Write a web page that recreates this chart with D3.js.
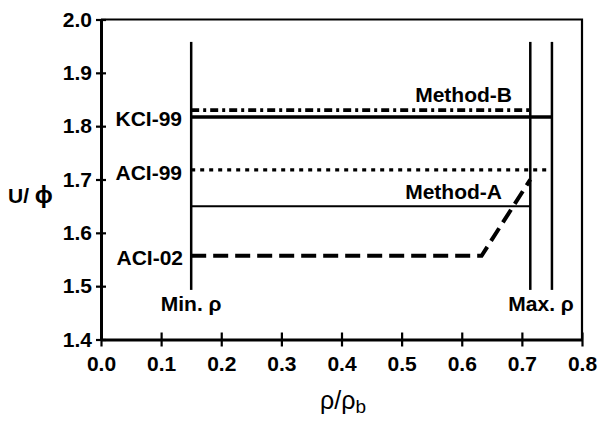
<!DOCTYPE html>
<html>
<head>
<script src="https://d3js.org/d3.v7.min.js"></script>
<style type="text/css">
    html, body {
        margin: 0;
        padding: 0;
        background: #fff;
    }
    svg text {
        font-family: "Liberation Sans", Arial, sans-serif;
    }
</style>
</head>
<body>
<div id="chart"></div>
<script>
    // axis ticks
    var xTicks = [0, 0.1, 0.2, 0.3, 0.4, 0.5, 0.6, 0.7, 0.8];
    var yTicks = [1.4, 1.5, 1.6, 1.7, 1.8, 1.9, 2.0];

    // horizontal levels (U/phi) between min rho and their max rho
    var levelNames  = ["Method-B", "KCI-99", "ACI-99", "Method-A"];
    var levelValues = [1.830, 1.817, 1.718, 1.650];
    var levelEnds   = [0.714, 0.75, 0.75, 0.714];
    var minRho = 0.15;

    // ACI-02 curve
    var aci02X = [0.15, 0.633, 0.714];
    var aci02Y = [1.557, 1.557, 1.700];

    // vertical limit lines
    var limitX = [0.15, 0.714, 0.75];
    var limitY = [1.493, 1.958];

    var width = 598, height = 421;

    var svg = d3.select('#chart').append('svg')
        .attr('width', width)
        .attr('height', height);

    var x = d3.scaleLinear().domain([0, 0.8]).range([101, 582]);
    var y = d3.scaleLinear().domain([1.4, 2.0]).range([339.5, 19.5]);

    // frame (top / right)
    svg.append('path')
        .attr('d', 'M' + x(0) + ',' + y(2.0) + 'H' + x(0.8) + 'V' + y(1.4))
        .attr('fill', 'none')
        .attr('stroke', '#000')
        .attr('stroke-width', 2.2);

    // axes
    var xAxis = d3.axisBottom(x).tickValues(xTicks)
        .tickFormat(d3.format('.1f')).tickSizeInner(7).tickSizeOuter(0).tickPadding(8);
    var yAxis = d3.axisLeft(y).tickValues(yTicks)
        .tickFormat(d3.format('.1f')).tickSizeInner(5).tickSizeOuter(0).tickPadding(4);

    var gx = svg.append('g').attr('transform', 'translate(0,' + y(1.4) + ')').call(xAxis);
    var gy = svg.append('g').attr('transform', 'translate(' + x(0) + ',0)').call(yAxis);

    [gx, gy].forEach(function(g){
        g.select('.domain').attr('stroke-width', 3);
        g.selectAll('.tick line').attr('stroke-width', 2.2);
        g.selectAll('.tick text')
            .attr('font-size', 21)
            .attr('font-weight', 'bold')
            .attr('fill', '#000');
    });
    // ticks cross the axis
    gx.selectAll('.tick line').attr('y1', -7).attr('y2', 7);
    gy.selectAll('.tick line').attr('x1', -5).attr('x2', 5);
    gy.selectAll('.tick text').attr('x', -9);
    gx.selectAll('.tick text').attr('y', 17);

    // vertical limit lines
    svg.selectAll('.limit')
        .data(limitX)
        .enter()
        .append('line')
        .attr('class', 'limit')
        .attr('x1', function(d){ return x(d); })
        .attr('x2', function(d){ return x(d); })
        .attr('y1', y(limitY[0]))
        .attr('y2', y(limitY[1]))
        .attr('stroke', '#000')
        .attr('stroke-width', 2.5);

    var levelStyle = {
        'Method-B': { w: 3.6, dash: '8,4,3,4' },
        'KCI-99':   { w: 3.5, dash: null },
        'ACI-99':   { w: 3.4, dash: '4,5' },
        'Method-A': { w: 2,   dash: null }
    };

    svg.selectAll('.level')
        .data(levelNames)
        .enter()
        .append('line')
        .attr('class', 'level')
        .attr('x1', x(minRho))
        .attr('x2', function(d, i){ return x(levelEnds[i]); })
        .attr('y1', function(d, i){ return y(levelValues[i]); })
        .attr('y2', function(d, i){ return y(levelValues[i]); })
        .attr('stroke', '#000')
        .attr('stroke-width', function(d){ return levelStyle[d].w; })
        .attr('stroke-dasharray', function(d){ return levelStyle[d].dash; });

    var line = d3.line()
        .x(function(d){ return x(d[0]); })
        .y(function(d){ return y(d[1]); });

    svg.append('path')
        .datum(d3.zip(aci02X, aci02Y))
        .attr('d', line)
        .attr('fill', 'none')
        .attr('stroke', '#000')
        .attr('stroke-width', 4)
        .attr('stroke-dasharray', '15,7');

    // labels
    function label(txt, px, py, anchor){
        return svg.append('text')
            .attr('x', px)
            .attr('y', py)
            .attr('text-anchor', anchor)
            .attr('font-size', 21)
            .attr('font-weight', 'bold')
            .text(txt);
    }
    label('KCI-99', 182, y(levelValues[1]) + 9, 'end');
    label('ACI-99', 182, y(levelValues[2]) + 10, 'end');
    label('ACI-02', 183, y(aci02Y[0]) + 9, 'end');
    label('Method-B', 512, y(levelValues[0]) - 8, 'end');
    label('Method-A', 502, y(levelValues[3]) - 7, 'end');
    label('Min. \u03c1', x(limitX[0]), 311, 'middle');
    label('Max. \u03c1', (x(limitX[1]) + x(limitX[2])) / 2, 311, 'middle');

    // axis titles
    var yt = svg.append('text')
        .attr('x', 8)
        .attr('y', 203)
        .attr('font-size', 21)
        .attr('font-weight', 'bold');
    yt.append('tspan').text('U/ ');
    yt.append('tspan').attr('font-size', 24).text('\u03d5');

    var xt = svg.append('text')
        .attr('x', 320)
        .attr('y', 409)
        .attr('font-size', 25);
    xt.append('tspan').text('\u03c1/\u03c1');
    xt.append('tspan').attr('font-size', 19).attr('dy', 4).text('b');
</script>
</body>
</html>
